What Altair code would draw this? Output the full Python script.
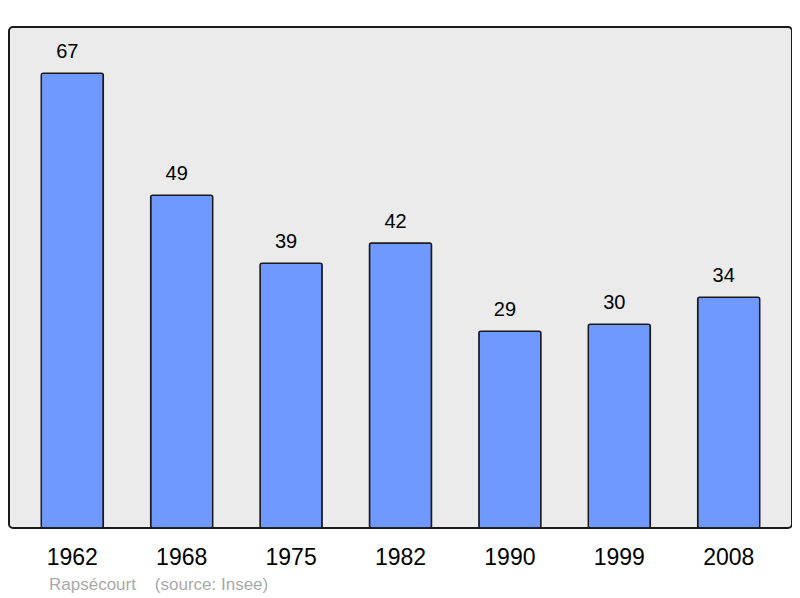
import altair as alt
import pandas as pd

years = ["1962", "1968", "1975", "1982", "1990", "1999", "2008"]
population = [67, 49, 39, 42, 29, 30, 34]

df = pd.DataFrame({"year": years, "pop": population})

base = alt.Chart(df)

x = alt.X("year:N", sort=None, title=None,
          scale=alt.Scale(paddingInner=0.433, paddingOuter=0.295),
          axis=alt.Axis(labelAngle=0, ticks=False, domain=False, labelFontSize=23,
                        labelFont="Liberation Sans", labelColor="#000000", labelPadding=18))
y = alt.Y("pop:Q", title=None, scale=alt.Scale(domain=[0, 73.8], nice=False, zero=True),
          axis=None)

bars = base.mark_bar(color="#7099ff", stroke="#1a1a1a", strokeWidth=1.5, cornerRadius=2).encode(x=x, y=y)
labels = base.mark_text(dy=-21, dx=-5, fontSize=20, font="Liberation Sans", color="#000000").encode(
    x=x, y=y, text="pop:Q")

chart = (bars + labels).properties(
    width=783, height=501,
    padding={"left": 1, "top": 19, "right": 0, "bottom": 70},
    autosize=alt.AutoSizeParams(type="none"),
    title=alt.TitleParams("Rapsécourt\u00a0\u00a0\u00a0\u00a0(source: Insee)", orient="bottom", anchor="start",
                          fontSize=17, font="Liberation Sans", fontWeight="normal",
                          color="#aaaaaa", dx=40, offset=8),
).configure(
    background="#ffffff",
    view=alt.ViewConfig(fill="#ebebeb", stroke="#1a1a1a", strokeWidth=2, cornerRadius=4),
)

chart.save("out.html", embed_options={"renderer": "svg", "actions": False})
